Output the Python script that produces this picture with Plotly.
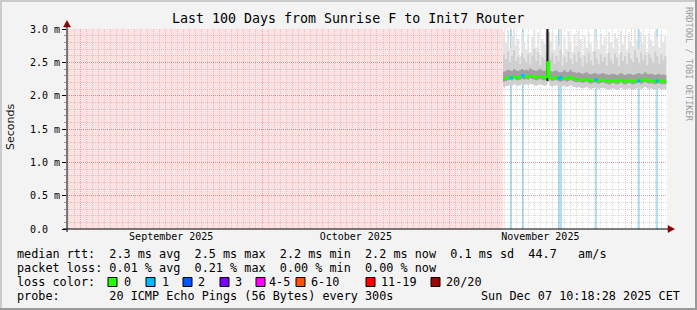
import plotly.graph_objects as go
import pandas as pd

# ---------------- data ----------------
range_start = "2025-08-29 18:29"
range_end = "2025-12-06 22:34"
data_start = "2025-11-09 20:00"
times = pd.date_range(data_start, periods=82, freq="8h")

median_rtt = [2.25, 2.26, 2.27, 2.28, 2.27, 2.29, 2.28, 2.27, 2.28, 2.29, 2.28,
              2.29, 2.28, 2.30, 2.29, 2.28, 2.27, 2.28, 2.29, 2.28, 2.27, 2.28,
              2.50,
              2.27, 2.26, 2.27, 2.28, 2.26, 2.25, 2.26, 2.27, 2.25, 2.26, 2.28, 2.26, 2.25,
              2.24, 2.25, 2.24, 2.23, 2.24, 2.25, 2.23, 2.22, 2.23, 2.24, 2.23, 2.22, 2.23, 2.24, 2.23,
              2.22, 2.21, 2.22, 2.23, 2.22, 2.21, 2.22, 2.24, 2.22, 2.21, 2.22, 2.23, 2.22, 2.21, 2.22,
              2.23, 2.24, 2.22, 2.23, 2.25, 2.23, 2.22, 2.23, 2.22, 2.21, 2.22, 2.23, 2.21, 2.22, 2.21, 2.21]

smoke_max = [2.95, 2.80, 2.98, 2.70, 2.90, 3.00, 2.75, 2.85, 2.60, 2.95, 2.80,
             2.70, 2.92, 2.65, 2.88, 3.00, 2.72, 2.95, 2.60, 2.85, 2.78, 2.96,
             3.10,
             2.82, 2.95, 2.68, 2.90, 2.75, 3.00, 2.62, 2.88, 2.70, 2.97, 2.80, 2.66, 2.92,
             2.74, 2.98, 2.85, 2.60, 2.90, 2.72, 2.95, 2.78, 2.66, 2.99, 2.84, 2.70, 2.93, 2.76, 2.88,
             2.64, 2.96, 2.80, 2.71, 2.94, 2.86, 2.62, 2.98, 2.77, 2.90, 2.68, 2.95, 2.82, 2.74, 3.00,
             2.85, 2.70, 2.96, 2.79, 2.91, 2.66, 2.94, 2.83, 2.75, 2.97, 2.88, 2.72, 2.93, 2.80, 2.90, 2.86]

smoke_p90 = [2.62, 2.55, 2.66, 2.50, 2.60, 2.68, 2.52, 2.58, 2.48, 2.64, 2.56,
             2.50, 2.63, 2.47, 2.60, 2.70, 2.52, 2.65, 2.46, 2.58, 2.54, 2.66,
             3.05,
             2.56, 2.64, 2.48, 2.60, 2.52, 2.68, 2.45, 2.58, 2.50, 2.66, 2.55, 2.47, 2.62,
             2.50, 2.66, 2.57, 2.44, 2.60, 2.49, 2.64, 2.53, 2.46, 2.67, 2.56, 2.48, 2.62, 2.51, 2.58,
             2.45, 2.64, 2.54, 2.48, 2.63, 2.57, 2.44, 2.66, 2.52, 2.60, 2.47, 2.64, 2.55, 2.50, 2.68,
             2.57, 2.49, 2.65, 2.53, 2.61, 2.46, 2.63, 2.56, 2.50, 2.66, 2.59, 2.48, 2.62, 2.54, 2.60, 2.57]

smoke_q3 = [2.36, 2.37, 2.39, 2.38, 2.37, 2.40, 2.38, 2.37, 2.38, 2.40, 2.38,
            2.39, 2.38, 2.41, 2.39, 2.38, 2.37, 2.39, 2.40, 2.38, 2.37, 2.39,
            2.95,
            2.37, 2.36, 2.37, 2.38, 2.36, 2.35, 2.36, 2.38, 2.35, 2.36, 2.39, 2.36, 2.35,
            2.34, 2.35, 2.34, 2.33, 2.34, 2.35, 2.33, 2.32, 2.33, 2.34, 2.33, 2.32, 2.33, 2.34, 2.33,
            2.32, 2.31, 2.32, 2.33, 2.32, 2.31, 2.32, 2.34, 2.32, 2.31, 2.32, 2.33, 2.32, 2.31, 2.32,
            2.33, 2.34, 2.32, 2.33, 2.35, 2.33, 2.32, 2.33, 2.32, 2.31, 2.32, 2.33, 2.31, 2.32, 2.31, 2.31]

smoke_q1 = [2.21, 2.22, 2.23, 2.24, 2.23, 2.25, 2.24, 2.23, 2.24, 2.25, 2.24,
            2.25, 2.24, 2.26, 2.25, 2.24, 2.23, 2.24, 2.25, 2.24, 2.23, 2.24,
            2.30,
            2.23, 2.22, 2.23, 2.24, 2.22, 2.21, 2.22, 2.23, 2.21, 2.22, 2.24, 2.22, 2.21,
            2.20, 2.21, 2.20, 2.19, 2.20, 2.21, 2.19, 2.18, 2.19, 2.20, 2.19, 2.18, 2.19, 2.20, 2.19,
            2.18, 2.17, 2.18, 2.19, 2.18, 2.17, 2.18, 2.20, 2.18, 2.17, 2.18, 2.19, 2.18, 2.17, 2.18,
            2.19, 2.20, 2.18, 2.19, 2.21, 2.19, 2.18, 2.19, 2.18, 2.17, 2.18, 2.19, 2.17, 2.18, 2.17, 2.17]

smoke_min = [2.13, 2.14, 2.15, 2.16, 2.15, 2.17, 2.16, 2.15, 2.16, 2.17, 2.16,
             2.17, 2.16, 2.18, 2.17, 2.16, 2.15, 2.16, 2.17, 2.16, 2.15, 2.16,
             2.20,
             2.15, 2.14, 2.15, 2.16, 2.14, 2.13, 2.14, 2.15, 2.13, 2.14, 2.16, 2.14, 2.13,
             2.12, 2.13, 2.12, 2.11, 2.12, 2.13, 2.11, 2.10, 2.11, 2.12, 2.11, 2.10, 2.11, 2.12, 2.11,
             2.10, 2.09, 2.10, 2.11, 2.10, 2.09, 2.10, 2.12, 2.10, 2.09, 2.10, 2.11, 2.10, 2.09, 2.10,
             2.11, 2.12, 2.10, 2.11, 2.13, 2.11, 2.10, 2.11, 2.10, 2.09, 2.10, 2.11, 2.09, 2.10, 2.09, 2.09]

spike_time = ["2025-11-17 04:00", "2025-11-17 04:00"]
spike_rtt = [2.22, 3.05]

loss_times = ["2025-11-11 04:00", "2025-11-13 03:00", "2025-11-19 02:00", "2025-11-19 10:00",
              "2025-11-25 05:00", "2025-12-02 07:00", "2025-12-05 07:00"]
loss_rtt = [2.27, 2.30, 2.26, 2.27, 2.24, 2.22, 2.22]

y_tickvals = [0, 0.5, 1.0, 1.5, 2.0, 2.5, 3.0]
y_ticktext = ["0.0\u00a0\u00a0", "0.5 m", "1.0 m", "1.5 m", "2.0 m", "2.5 m", "3.0 m"]

title_text = "Last 100 Days from Sunrise F to Init7 Router"
legend_lines = [
    "median rtt:  2.3 ms avg  2.5 ms max  2.2 ms min  2.2 ms now  0.1 ms sd  44.7   am/s",
    "packet loss: 0.01 % avg  0.21 % max  0.00 % min  0.00 % now",
    "loss color:",
    "probe:       20 ICMP Echo Pings (56 Bytes) every 300s",
]
loss_labels = ["0", "1", "2", "3", "4-5", "6-10", "11-19", "20/20"]
loss_colors = ["#26ff00", "#00b8ff", "#0059ff", "#7e00ff", "#ff00ff", "#ff5500", "#ff0000", "#a10000"]
timestamp = "Sun Dec 07 10:18:28 2025 CET"

# ---------------- layout helpers ----------------
L, R, T, B = 67, 667, 29, 229
PW, PH = R - L, B - T
def px(p):
    return (p - L) / PW
def py(p):
    return (B - p) / PH
def nb(s):
    return s.replace(" ", "\u00a0")

MONO = "DejaVu Sans Mono"

fig = go.Figure()

def band(lo, hi, color):
    fig.add_trace(go.Scatter(x=times, y=lo, mode="lines", line=dict(width=0, shape="hv"),
                             hoverinfo="skip"))
    fig.add_trace(go.Scatter(x=times, y=hi, mode="lines", line=dict(width=0, shape="hv"),
                             fill="tonexty", fillcolor=color, hoverinfo="skip"))

band(smoke_min, smoke_max, "#e4e4e4")
band(smoke_min, smoke_p90, "#cfcfcf")
band(smoke_q1, smoke_q3, "#a0a0a0")

fig.add_trace(go.Scatter(x=spike_time, y=spike_rtt, mode="lines",
                         line=dict(color="#1a1a1a", width=2)))
fig.add_trace(go.Scatter(x=times, y=median_rtt, mode="lines",
                         line=dict(color="#26ff00", width=2, shape="hv")))
fig.add_trace(go.Scatter(x=loss_times, y=loss_rtt, mode="markers",
                         marker=dict(color="#00b8ff", size=3, symbol="square")))

shapes = []
# unknown (no data) region
shapes.append(dict(type="rect", xref="x", yref="paper", x0=range_start, x1=data_start,
                   y0=0, y1=1, fillcolor="#ffe1e1", line=dict(width=0), layer="below"))
# loss marks
for t in loss_times:
    shapes.append(dict(type="line", xref="x", yref="paper", x0=t, x1=t, y0=0, y1=1,
                       line=dict(color="#9ad6ee", width=1.5), layer="between"))
# axis extensions and arrows
shapes.append(dict(type="line", xref="paper", yref="paper", x0=px(63), x1=px(668),
                   y0=0, y1=0, line=dict(color="black", width=1)))
shapes.append(dict(type="line", xref="paper", yref="paper", x0=0, x1=0,
                   y0=py(232), y1=py(26), line=dict(color="black", width=1)))
shapes.append(dict(type="path", xref="paper", yref="paper",
                   path=f"M {px(668)},{py(225.5)} L {px(674.5)},{py(229)} L {px(668)},{py(232.5)} Z",
                   fillcolor="#8b0000", line=dict(color="#8b0000", width=0.5)))
shapes.append(dict(type="path", xref="paper", yref="paper",
                   path=f"M {px(63.5)},{py(27)} L {px(67)},{py(20.5)} L {px(70.5)},{py(27)} Z",
                   fillcolor="#8b0000", line=dict(color="#8b0000", width=0.5)))
# figure border shading
shapes.append(dict(type="rect", xref="paper", yref="paper", x0=px(0), x1=px(697),
                   y0=py(0), y1=py(2), fillcolor="#cbcbcb", line=dict(width=0)))
shapes.append(dict(type="rect", xref="paper", yref="paper", x0=px(0), x1=px(2),
                   y0=py(0), y1=py(310), fillcolor="#cbcbcb", line=dict(width=0)))
shapes.append(dict(type="rect", xref="paper", yref="paper", x0=px(695), x1=px(697),
                   y0=py(0), y1=py(310), fillcolor="#999999", line=dict(width=0)))
shapes.append(dict(type="rect", xref="paper", yref="paper", x0=px(0), x1=px(697),
                   y0=py(308), y1=py(310), fillcolor="#999999", line=dict(width=0)))

# legend colour boxes
box_x = [108, 146, 183, 220, 256, 296, 366, 431]
text_x = [123, 161, 197, 234, 268, 310, 380, 445]
for bx, c in zip(box_x, loss_colors):
    shapes.append(dict(type="rect", xref="paper", yref="paper", x0=px(bx), x1=px(bx + 9),
                       y0=py(286.5), y1=py(277.5), fillcolor=c, line=dict(color="black", width=1)))

annotations = []
annotations.append(dict(text=nb(title_text), xref="paper", yref="paper", x=px(348), y=py(19),
                        xanchor="center", yanchor="middle", showarrow=False,
                        font=dict(family=MONO, size=13.3, color="black")))
annotations.append(dict(text="Seconds", xref="paper", yref="paper", x=px(10), y=py(127),
                        xanchor="center", yanchor="middle", showarrow=False, textangle=-90,
                        font=dict(family="DejaVu Sans", size=11, color="#111")))
annotations.append(dict(text=nb("RRDTOOL / TOBI OETIKER"), xref="paper", yref="paper",
                        x=px(688.5), y=py(5), xanchor="center", yanchor="top", showarrow=False,
                        textangle=90, font=dict(family=MONO, size=8.6, color="#9c9c9c")))
line_y = [254, 268, 282, 296]
for ln, yy in zip(legend_lines, line_y):
    annotations.append(dict(text=nb(ln), xref="paper", yref="paper", x=px(15), y=py(yy),
                            xanchor="left", yanchor="middle", showarrow=False,
                            font=dict(family=MONO, size=11.8, color="black")))
for tx, lab in zip(text_x, loss_labels):
    annotations.append(dict(text=nb(lab), xref="paper", yref="paper", x=px(tx - 1), y=py(282),
                            xanchor="left", yanchor="middle", showarrow=False,
                            font=dict(family=MONO, size=11.8, color="black")))
annotations.append(dict(text=nb(timestamp), xref="paper", yref="paper", x=px(682), y=py(296),
                        xanchor="right", yanchor="middle", showarrow=False,
                        font=dict(family=MONO, size=11.8, color="black")))

MAJOR = "rgba(200,60,60,0.38)"
MINOR = "rgba(140,140,140,0.32)"

fig.update_layout(
    width=697, height=310,
    margin=dict(l=L, r=697 - R, t=T, b=310 - B),
    paper_bgcolor="#f3f3f3", plot_bgcolor="#ffffff",
    showlegend=False, shapes=shapes, annotations=annotations,
    xaxis=dict(type="date", range=[range_start, range_end], dtick="M1", tick0="2025-09-01",
               ticklabelmode="period", tickformat="%B %Y", ticks="",
               tickfont=dict(family=MONO, size=10, color="black"),
               showgrid=True, gridcolor=MAJOR, griddash="1px,1px", gridwidth=1,
               showline=False, zeroline=False, fixedrange=True,
               minor=dict(dtick=86400000, tick0="2025-09-01", showgrid=True, gridcolor=MINOR,
                          griddash="1px,1px", gridwidth=1)),
    yaxis=dict(range=[0, 3.0], tickvals=y_tickvals, ticktext=y_ticktext,
               tickfont=dict(family=MONO, size=10, color="black"),
               ticks="outside", ticklen=4, tickcolor="black",
               showgrid=True, gridcolor=MAJOR, griddash="1px,1px", gridwidth=1,
               showline=False, zeroline=False, fixedrange=True,
               minor=dict(dtick=0.1, showgrid=True, gridcolor=MINOR, griddash="1px,1px",
                          gridwidth=1, ticks="outside", ticklen=2, tickcolor="#999")),
)

fig.write_html("out.html", config={"displayModeBar": False})
